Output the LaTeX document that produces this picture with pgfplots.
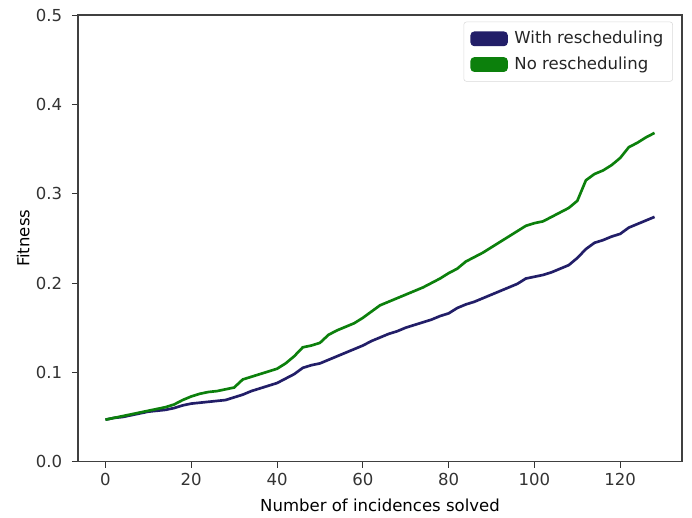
\documentclass[border=0pt]{standalone}
\usepackage{pgfplots}
\pgfplotsset{compat=1.18}
\usepackage{fontspec}
\setmainfont{DejaVu Sans}
\definecolor{cblue}{HTML}{221E68}
\definecolor{cgreen}{HTML}{0C800C}
\begin{document}
\fontsize{12.4}{14}\selectfont
\begin{tikzpicture}
\begin{axis}[
  scale only axis, width=453pt, height=335pt,
  xmin=-6.4, xmax=134.4, ymin=0, ymax=0.5,
  xtick={0,20,40,60,80,100,120},
  ytick={0,0.1,0.2,0.3,0.4,0.5},
  /pgf/number format/assume math mode=true,
  tick align=outside, xtick pos=left, ytick pos=left,
  major tick length=4.5pt,
  every tick/.style={black!80, line width=0.6pt},
  axis line style={black!75, line width=0.8pt},
  tick label style={font=\fontsize{12.4}{14}\selectfont, text=black!80},
  yticklabel style={xshift=-3pt, /pgf/number format/.cd, fixed, fixed zerofill, precision=1},
  label style={font=\fontsize{12.4}{14}\selectfont, text=black!85},
  xlabel={Number of incidences solved},
  ylabel={Fitness},
  every axis x label/.style={at={(axis description cs:0.5,0)}, yshift=-33pt, anchor=center},
  every axis y label/.style={at={(axis description cs:0,0.5)}, xshift=-41pt, rotate=90, anchor=center},
  legend style={at={(0.985,0.985)}, anchor=north east, draw=black!15, rounded corners=2pt,
    fill=white, font=\fontsize{12.4}{14}\selectfont, text=black!85, row sep=4pt, inner xsep=5pt, inner ysep=5pt,
    /tikz/every odd column/.style={column sep=3pt}},
  legend cell align=left,
  legend image code/.code={\fill[#1] (0pt,-4.5pt) rectangle (26pt,4.5pt);},
]
\addplot[cblue, line width=2pt] coordinates {
(0,0.047)(2,0.049)(4,0.050)(6,0.052)(8,0.054)(10,0.056)(12,0.057)(14,0.058)(16,0.060)(18,0.063)
(20,0.065)(22,0.066)(24,0.067)(26,0.068)(28,0.069)(30,0.072)(32,0.075)(34,0.079)(36,0.082)(38,0.085)
(40,0.088)(42,0.093)(44,0.098)(46,0.105)(48,0.108)(50,0.110)(52,0.114)(54,0.118)(56,0.122)(58,0.126)
(60,0.130)(62,0.135)(64,0.139)(66,0.143)(68,0.146)(70,0.150)(72,0.153)(74,0.156)(76,0.159)(78,0.163)
(80,0.166)(82,0.172)(84,0.176)(86,0.179)(88,0.183)(90,0.187)(92,0.191)(94,0.195)(96,0.199)(98,0.205)
(100,0.207)(102,0.209)(104,0.212)(106,0.216)(108,0.220)(110,0.228)(112,0.238)(114,0.245)(116,0.248)(118,0.252)
(120,0.255)(122,0.262)(124,0.266)(126,0.270)(128,0.274)
};
\addlegendentry{With rescheduling}
\addplot[cgreen, line width=2pt] coordinates {
(0,0.047)(2,0.049)(4,0.051)(6,0.053)(8,0.055)(10,0.057)(12,0.059)(14,0.061)(16,0.064)(18,0.069)
(20,0.073)(22,0.076)(24,0.078)(26,0.079)(28,0.081)(30,0.083)(32,0.092)(34,0.095)(36,0.098)(38,0.101)
(40,0.104)(42,0.110)(44,0.118)(46,0.128)(48,0.130)(50,0.133)(52,0.142)(54,0.147)(56,0.151)(58,0.155)
(60,0.161)(62,0.168)(64,0.175)(66,0.179)(68,0.183)(70,0.187)(72,0.191)(74,0.195)(76,0.200)(78,0.205)
(80,0.211)(82,0.216)(84,0.224)(86,0.229)(88,0.234)(90,0.240)(92,0.246)(94,0.252)(96,0.258)(98,0.264)
(100,0.267)(102,0.269)(104,0.274)(106,0.279)(108,0.284)(110,0.292)(112,0.315)(114,0.322)(116,0.326)(118,0.332)
(120,0.340)(122,0.352)(124,0.357)(126,0.363)(128,0.368)
};
\addlegendentry{No rescheduling}
\end{axis}
\path (current axis.east) ++(7.5pt,0) coordinate (r);
\path (current axis.west) ++(-58.5pt,0) coordinate (l);
\path (current axis.south) ++(0,-41.25pt) coordinate (b);
\path (current axis.north) ++(0,11.25pt) coordinate (t);
\end{tikzpicture}
\end{document}
